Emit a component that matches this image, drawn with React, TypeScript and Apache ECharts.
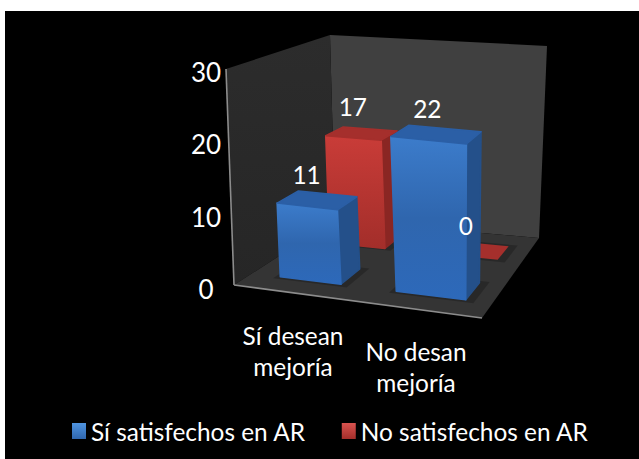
import React, { useEffect, useRef } from "react";
import * as echarts from "echarts";

// Chart data
const categories = ["Sí desean\nmejoría", "No desan\nmejoría"];
const seriesNames = ["Sí satisfechos en AR", "No satisfechos en AR"];
const satisfied = [11, 22];
const notSatisfied = [17, 0];
const axisMax = 30;
const axisStep = 10;

// Scene frame in page pixels: floor quad and the quad of the plane at axisMax,
// each listed front-left, front-right, back-right, back-left.
type Pt = [number, number];
const floorQuad: Pt[] = [[234, 285], [482, 318], [539, 238], [335, 220]];
const topQuad: Pt[] = [[226, 69], [487, 95], [547, 46], [330, 35]];

const FONT = "Lato";
const FONT_SIZE = 24.4;
const barShare = 0.54;
const barShift = 0.016;
const frontRow: Pt = [0.15, 0.345];
const backRow: Pt = [0.64, 0.84];
// Vertical foreshortening: the floor is further from the eye than the top plane.
const foreshorten = 0.077;

function quadMap(q: Pt[]) {
  const [[x0, y0], [x1, y1], [x2, y2], [x3, y3]] = q;
  const dx1 = x1 - x2, dx2 = x3 - x2, sx = x0 - x1 + x2 - x3;
  const dy1 = y1 - y2, dy2 = y3 - y2, sy = y0 - y1 + y2 - y3;
  const den = dx1 * dy2 - dx2 * dy1;
  const g = (sx * dy2 - dx2 * sy) / den;
  const h = (dx1 * sy - sx * dy1) / den;
  const a = x1 - x0 + g * x1, b = x3 - x0 + h * x3;
  const d = y1 - y0 + g * y1, e = y3 - y0 + h * y3;
  return (u: number, v: number): Pt => {
    const w = 1 + g * u + h * v;
    return [(a * u + b * v + x0) / w, (d * u + e * v + y0) / w];
  };
}
const floorAt = quadMap(floorQuad);
const topAt = quadMap(topQuad);

// u: across the categories, v: depth, t: share of the value axis
function project(u: number, v: number, t: number): Pt {
  const f = floorAt(u, v);
  const c = topAt(u, v);
  const s = (t * (1 - foreshorten)) / (1 - foreshorten * t);
  return [f[0] + (c[0] - f[0]) * s, f[1] + (c[1] - f[1]) * s];
}

const vGrad = (stops: string[]) => ({
  type: "linear", x: 0, y: 0, x2: 0, y2: 1,
  colorStops: stops.map((color, i) => ({ offset: i / (stops.length - 1), color })),
});

const poly = (points: Pt[], fill: any, stroke?: any, lineWidth = 0) => ({
  type: "polygon",
  shape: { points },
  style: stroke
    ? { fill, stroke, lineWidth, lineJoin: "round" }
    : { fill },
});

const renderFrame = () => {
  const line = (a: Pt, b: Pt, stroke: string) => ({
    type: "line",
    shape: { x1: a[0], y1: a[1], x2: b[0], y2: b[1] },
    style: { stroke, lineWidth: 1.6 },
  });
  const fl = project(0, 0, 0), fr = project(1, 0, 0);
  const br = project(1, 1, 0), bl = project(0, 1, 0);
  const flt = project(0, 0, 1), brt = project(1, 1, 1), blt = project(0, 1, 1);
  return {
    type: "group",
    children: [
      poly([bl, br, brt, blt], "#404040"),
      poly([fl, bl, blt, flt], vGrad(["#2c2c2c", "#262626"])),
      poly([fl, fr, br, bl], "#343434"),
      line(flt, fl, "#8c8c8c"),
      line(fl, fr, "#8c8c8c"),
    ],
  };
};

const makeBars = (row: Pt, palette: { front: string[]; side: string; top: string }) =>
  (params: any, api: any) => {
    const sys = params.coordSys;
    const pos = api.coord([api.value(0), api.value(1)]);
    const half = (api.size([1, 0])[0] * barShare) / 2;
    const u0 = (pos[0] - half - sys.x) / sys.width + barShift;
    const u1 = (pos[0] + half - sys.x) / sys.width + barShift;
    const t = (sys.y + sys.height - pos[1]) / sys.height;
    const [v0, v1] = row;
    const a = project(u0, v0, 0), b = project(u1, v0, 0), c = project(u1, v1, 0);
    const at = project(u0, v0, t), bt = project(u1, v0, t), ct = project(u1, v1, t), dt = project(u0, v1, t);
    const shadow = [
      project(u0 - 0.02, v0 - 0.025, 0),
      project(u1 + 0.035, v0 - 0.025, 0),
      project(u1 + 0.035, v1 + 0.02, 0),
      project(u0 - 0.02, v1 + 0.02, 0),
    ] as Pt[];
    const children: any[] = [poly(shadow, "rgba(0,0,0,0.22)")];
    if (t > 0) {
      children.push(poly([b, c, ct, bt], palette.side, palette.side, 1.5));
      children.push(poly([a, b, bt, at], vGrad(palette.front), vGrad(palette.front), 1.5));
    }
    children.push(poly([at, bt, ct, dt], palette.top, palette.top, t > 0 ? 1.5 : 0));
    return { type: "group", children };
  };

// Each value label sits a fixed distance above the front centre of its bar's top.
const makeValueLabels = (row: Pt) => (params: any, api: any) => {
  const sys = params.coordSys;
  const value = api.value(1);
  const pos = api.coord([api.value(0), value]);
  const u = (pos[0] - sys.x) / sys.width + barShift;
  const t = (sys.y + sys.height - pos[1]) / sys.height;
  const [x, y] = project(u, row[0], t);
  return {
    type: "text",
    style: {
      x, y: y - 31.5, text: String(value), fill: "#ffffff",
      font: `${FONT_SIZE}px "${FONT}"`, align: "center", verticalAlign: "middle",
    },
  };
};

const bluePalette = { front: ["#3c7ccb", "#2f66ae", "#2d69ba"], side: "#24508a", top: "#2b5fa6" };
const redPalette = { front: ["#c93c38", "#a32e2a"], side: "#8a2623", top: "#a52f2c" };

const rows = (values: number[]) => values.map((v, i) => [i, v]);

export default function App() {
  const ref = useRef<HTMLDivElement>(null);
  useEffect(() => {
    const chart = echarts.init(ref.current!, undefined, { renderer: "svg" });
    const textStyle = { color: "#ffffff", fontFamily: FONT, fontSize: FONT_SIZE };
    chart.setOption({
      animation: false,
      backgroundColor: "transparent",
      grid: { left: 231.5, top: 72, width: 246, height: 217 },
      xAxis: {
        type: "category",
        data: [
          { value: categories[0] },
          { value: categories[1], textStyle: { padding: [16, 0, 0, 0] } },
        ],
        axisLine: { show: false },
        axisTick: { show: false },
        axisLabel: { ...textStyle, interval: 0, margin: 31, lineHeight: 31, align: "center", verticalAlign: "top" },
      },
      yAxis: {
        type: "value",
        min: 0,
        max: axisMax,
        interval: axisStep,
        axisLine: { show: false },
        axisTick: { show: false },
        splitLine: { show: false },
        axisLabel: { ...textStyle, fontSize: 26, align: "center", margin: 25.5 },
      },
      legend: {
        left: 72,
        top: 419,
        padding: 0,
        itemWidth: 14,
        itemHeight: 16,
        itemGap: 36,
        icon: "rect",
        textStyle: { ...textStyle },
        data: [
          { name: seriesNames[0], itemStyle: { color: vGrad(["#4f94e0", "#2f66ae"]) } },
          { name: seriesNames[1], itemStyle: { color: vGrad(["#d9534f", "#a32e2a"]) } },
        ],
      },
      series: [
        {
          type: "custom", name: "frame", silent: true,
          data: [[0, 0]], encode: { x: 0, y: 1 }, renderItem: renderFrame,
        },
        {
          type: "custom", name: seriesNames[1], itemStyle: { color: "#c93c38" },
          data: rows(notSatisfied), encode: { x: 0, y: 1 }, renderItem: makeBars(backRow, redPalette),
        },
        {
          type: "custom", name: seriesNames[0], itemStyle: { color: "#3c7ccb" },
          data: rows(satisfied), encode: { x: 0, y: 1 }, renderItem: makeBars(frontRow, bluePalette),
        },
        {
          type: "custom", name: "labels-back", silent: true,
          data: rows(notSatisfied), encode: { x: 0, y: 1 }, renderItem: makeValueLabels(backRow),
        },
        {
          type: "custom", name: "labels-front", silent: true,
          data: rows(satisfied), encode: { x: 0, y: 1 }, renderItem: makeValueLabels(frontRow),
        },
      ],
    });
    return () => chart.dispose();
  }, []);
  return (
    <div style={{ position: "fixed", left: 0, top: 0, width: 639, height: 459, background: "#ffffff" }}>
      <div style={{ position: "absolute", left: 5, top: 11, right: 0, bottom: 0, background: "#000000" }} />
      <div ref={ref} style={{ position: "absolute", left: 0, top: 0, width: 639, height: 459 }} />
    </div>
  );
}
